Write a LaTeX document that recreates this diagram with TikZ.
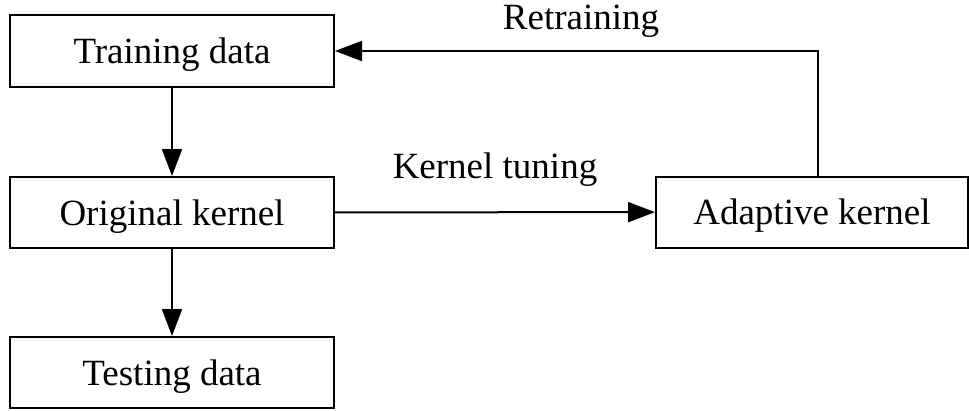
\documentclass[tikz,border=0pt]{standalone}
\usepackage{fontspec}
\setmainfont{Liberation Serif}
\usetikzlibrary{arrows.meta}
\begin{document}
\begin{tikzpicture}[x=1pt,y=-1pt,
  box/.style={draw=black, line width=2pt, inner sep=0pt, minimum width=324pt, minimum height=71pt,
    text height=25pt, text depth=0pt, font=\fontsize{37}{44}\selectfont},
  lbl/.style={inner sep=0pt, anchor=base, font=\fontsize{37}{44}\selectfont},
  arr/.style={line width=2pt, -{Triangle[length=27pt,width=20pt]}}]
\useasboundingbox (0,0) rectangle (969,410);
\node[box, minimum height=72pt] (train) at (172,51) {Training data};
\node[box] (orig) at (172,212.5) {Original kernel};
\node[box] (test) at (172,372.5) {Testing data};
\node[box, minimum width=312pt] (adapt) at (812,212) {Adaptive kernel};
\coordinate (up) at (818,176.5);
\coordinate (corner) at (818,51);
\draw[arr] (train) -- (orig);
\draw[arr] (orig) -- (test);
\draw[arr] (orig) -- (adapt);
\draw[arr] (up) -- (corner) -- (train.east);
\node[lbl] (retr) at (581,29) {Retraining};
\node[lbl] (ktun) at (495,178) {Kernel tuning};
\end{tikzpicture}
\end{document}
